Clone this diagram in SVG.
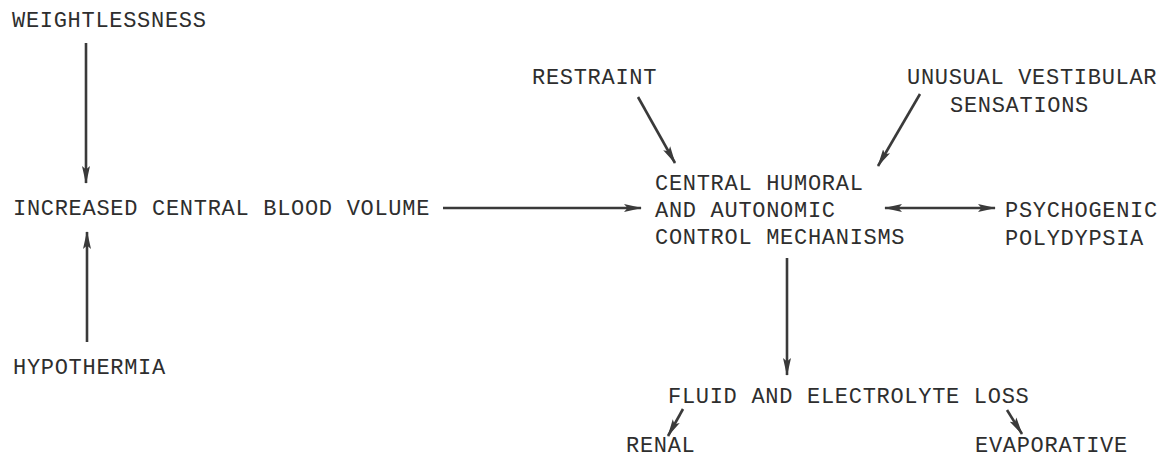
<svg xmlns="http://www.w3.org/2000/svg" width="1160" height="459" viewBox="0 0 1160 459">
  <style>
    text { font-family: "Liberation Mono", "DejaVu Sans Mono", monospace; font-size: 22px; letter-spacing: 0.7px; fill: #2e2e2e; }
    .edge { stroke: #3a3a3a; stroke-width: 2.6; fill: none; marker-end: url(#head); }
    .both { marker-start: url(#head); }
  </style>
  <defs>
    <marker id="head" viewBox="0 0 18 9" refX="17" refY="4.5" markerWidth="18" markerHeight="9" markerUnits="userSpaceOnUse" orient="auto-start-reverse">
      <path d="M0,0.5 L18,4.5 L0,8.5 L3.5,4.5 Z" fill="#3a3a3a"/>
    </marker>
  </defs>

  <!-- arrows between the labels -->
  <g id="connectors">
    <line class="edge" x1="86" y1="43" x2="86" y2="183"/>
    <line class="edge" x1="87" y1="342" x2="87" y2="232"/>
    <line class="edge" x1="443" y1="208" x2="641" y2="208"/>
    <line class="edge" x1="638" y1="97" x2="675" y2="163"/>
    <line class="edge" x1="920" y1="94" x2="878" y2="166"/>
    <line class="edge both" x1="885" y1="208" x2="995" y2="208"/>
    <line class="edge" x1="787" y1="258" x2="787" y2="375"/>
    <line class="edge" x1="683" y1="409" x2="668" y2="436"/>
    <line class="edge" x1="1007" y1="410" x2="1022" y2="434"/>
  </g>

  <g id="weightlessness"><text x="12" y="27">WEIGHTLESSNESS</text></g>
  <g id="blood-volume"><text x="13" y="215">INCREASED CENTRAL BLOOD VOLUME</text></g>
  <g id="hypothermia"><text x="13" y="374">HYPOTHERMIA</text></g>
  <g id="restraint"><text x="532" y="84">RESTRAINT</text></g>
  <g id="vestibular">
    <text x="907" y="84">UNUSUAL VESTIBULAR</text>
    <text x="950" y="112">SENSATIONS</text>
  </g>
  <g id="central-control">
    <text x="655" y="190">CENTRAL HUMORAL</text>
    <text x="655" y="217">AND AUTONOMIC</text>
    <text x="655" y="244">CONTROL MECHANISMS</text>
  </g>
  <g id="polydypsia">
    <text x="1005" y="217">PSYCHOGENIC</text>
    <text x="1005" y="245">POLYDYPSIA</text>
  </g>
  <g id="fluid-loss"><text x="668" y="403">FLUID AND ELECTROLYTE LOSS</text></g>
  <g id="renal"><text x="626" y="452">RENAL</text></g>
  <g id="evaporative"><text x="975" y="452">EVAPORATIVE</text></g>
</svg>
